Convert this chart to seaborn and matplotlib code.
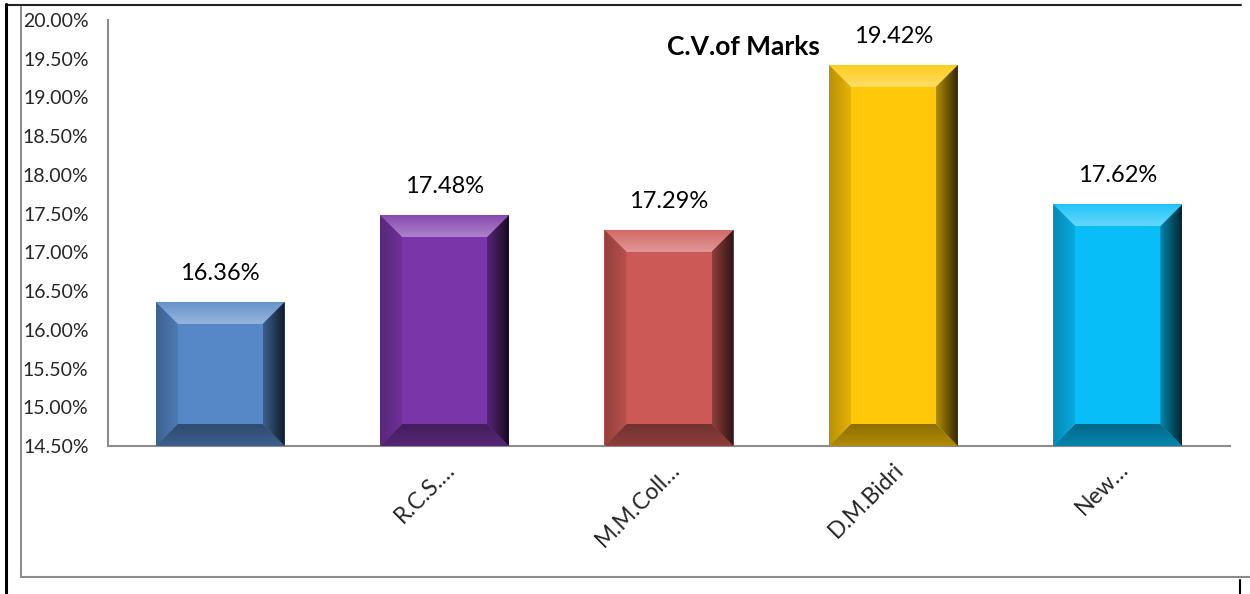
import numpy as np
import pandas as pd
import seaborn as sns
import matplotlib.pyplot as plt
from matplotlib.patches import Polygon
from matplotlib.lines import Line2D
from matplotlib.colors import to_rgb

# data
colleges = ["", "R.C.S.…", "M.M.Coll…", "D.M.Bidri", "New…"]
cv_values = [16.36, 17.48, 17.29, 19.42, 17.62]
bar_colors = ["#5688C8", "#7A36A8", "#CD5956", "#FFC808", "#08BEF8"]
y_ticks = [14.5, 15.0, 15.5, 16.0, 16.5, 17.0, 17.5, 18.0, 18.5, 19.0, 19.5, 20.0]
title = "C.V.of Marks"

sns.set_style("white")
plt.rcParams['font.family'] = ['Lato', 'DejaVu Sans']

W, H = 1250, 594
fig = plt.figure(figsize=(W / 100, H / 100), dpi=100)
ax = fig.add_axes([108 / W, 148 / H, 1122 / W, 426 / H])

df = pd.DataFrame({"college": colleges, "cv": cv_values})
sns.barplot(data=df, x="college", y="cv", hue="college", order=colleges,
            hue_order=colleges, palette=bar_colors, saturation=1,
            width=0.575, linewidth=0, legend=False, ax=ax)

ax.set_ylim(14.5, 20.0)
ax.set_xlim(-0.5, len(colleges) - 0.5)
ax.set_yticks(y_ticks)
ax.set_yticklabels([f"{t:.2f}%" for t in y_ticks], fontsize=14)
ax.set_xlabel("")
ax.set_ylabel("")
ax.tick_params(axis='y', length=0, pad=14)
ax.tick_params(axis='x', length=0, pad=9)
ax.set_xticks(range(len(colleges)))
ax.set_xticklabels(colleges, rotation=45, ha='right', va='top',
                   rotation_mode='anchor', fontsize=16.5)

for side in ['top', 'right']:
    ax.spines[side].set_visible(False)
for side in ['left', 'bottom']:
    ax.spines[side].set_color('#8c8c8c')
    ax.spines[side].set_linewidth(1.5)


def shade(c, f):
    c = np.array(to_rgb(c))
    if f >= 0:
        return c + (1 - c) * f
    return c * (1 + f)


def gradient(ax, pts, extent, c_from, c_to, horizontal):
    n = 64
    t = np.linspace(0, 1, n)
    cols = np.array([c_from * (1 - s) + c_to * s for s in t])
    img = cols[None, :, :] if horizontal else cols[:, None, :]
    poly = Polygon(pts, closed=True, facecolor='none', edgecolor='none')
    ax.add_patch(poly)
    im = ax.imshow(img, extent=extent, origin='lower', aspect='auto',
                   interpolation='bilinear', zorder=3)
    im.set_clip_path(poly)


# bevel size, 22 px converted to data units
inv = ax.transData.inverted()
p0 = inv.transform(ax.transData.transform((0, 15)))
p1 = inv.transform(ax.transData.transform((0, 15)) + np.array([22, 22]))
bx, by = p1 - p0

ybase = ax.get_ylim()[0]
bars = [p for p in ax.patches if p.get_height() > 0]
for p, col in zip(bars, bar_colors):
    x0 = p.get_x()
    x1 = x0 + p.get_width()
    yt = p.get_y() + p.get_height()
    yb = max(p.get_y(), ybase)
    # top
    gradient(ax, [(x0, yt), (x1, yt), (x1 - bx, yt - by), (x0 + bx, yt - by)],
             [x0, x1, yt - by, yt], shade(col, 0.38), shade(col, 0.1), False)
    # bottom
    gradient(ax, [(x0, yb), (x1, yb), (x1 - bx, yb + by), (x0 + bx, yb + by)],
             [x0, x1, yb, yb + by], shade(col, -0.3), shade(col, -0.45), False)
    # left
    gradient(ax, [(x0, yb), (x0 + bx, yb + by), (x0 + bx, yt - by), (x0, yt)],
             [x0, x0 + bx, yb, yt], shade(col, -0.28), shade(col, -0.1), True)
    # right
    gradient(ax, [(x1, yb), (x1 - bx, yb + by), (x1 - bx, yt - by), (x1, yt)],
             [x1 - bx, x1, yb, yt], shade(col, -0.3), shade(col, -0.8), True)
    # value label
    ax.annotate(f"{yt:.2f}%", (x0 + p.get_width() / 2, yt), xytext=(0, 13),
                textcoords='offset points', ha='center', va='bottom',
                fontsize=17, color='black')

ax.set_ylim(14.5, 20.0)
ax.set_xlim(-0.5, len(colleges) - 0.5)

ax.text(0.566, 0.937, title, transform=ax.transAxes, ha='center', va='center',
        fontsize=19, fontweight='bold', color='black')


# outer frame lines (pixel positions)
def fline(xs, ys, **kw):
    fig.add_artist(Line2D([x / W for x in xs], [1 - y / H for y in ys],
                          transform=fig.transFigure, **kw))


fline([21, 21], [7, 577], color='#8c8c8c', lw=1.5)
fline([21, 1250], [577, 577], color='#8c8c8c', lw=1.5)
fline([6, 1241], [5, 5], color='#222222', lw=1.5)
fline([6, 6], [4, 594], color='black', lw=2.2)
fline([1240, 1240], [580, 594], color='black', lw=1.5)

fig.savefig("out.png", dpi=100)
